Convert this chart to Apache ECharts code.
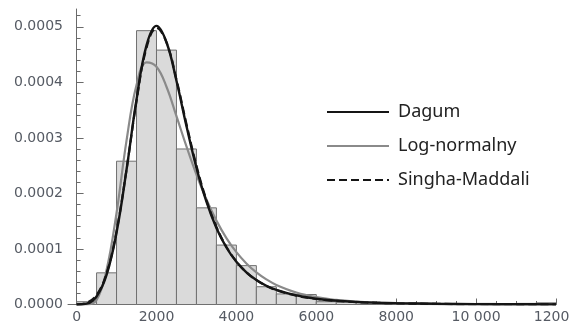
<!DOCTYPE html>
<html>
<head>
<meta charset="utf-8">
<script src="https://cdn.jsdelivr.net/npm/echarts@6/dist/echarts.min.js"></script>
<style>html,body{margin:0;padding:0;background:#fff}#c{width:569px;height:326px}</style>
</head>
<body>
<div id="c"></div>
<script>
// Histogram bins (left edges, width 500) and densities
const binLeft = [0,500,1000,1500,2000,2500,3000,3500,4000,4500,5000,5500,6000,6500,7000,7500,8000,8500,9000,9500,10000,10500,11000,11500];
const binWidth = 500;
const binDensity = [0.000005,0.000057,0.000258,0.000493,0.000458,0.00028,0.000174,0.000107,0.00007,0.000032,0.000019,0.000018,0.000005,0.000004,0.000003,0.000003,0.000002,0.000002,0.000002,0.000001,0.000002,0.000001,0.000002,0.000003];

// Curve sample positions and values
const curveX = [0,250,500,750,1000,1250,1500,1750,2000,2250,2500,2750,3000,3250,3500,3750,4000,4250,4500,4750,5000,5500,6000,6500,7000,7500,8000,9000,10000,11000,12000];
const dagum = [0,0.0000015,0.0000145,0.0000532,0.0001295,0.0002426,0.000369,0.0004665,0.0005016,0.0004722,0.0004027,0.0003214,0.0002463,0.000185,0.0001378,0.0001026,0.0000768,0.0000579,0.000044,0.0000338,0.0000262,0.0000163,0.0000104,0.0000069,0.0000047,0.0000033,0.0000024,0.0000013,0.0000007,0.0000004,0.0000003];
const logNormal = [0,0,0.000008,0.000062,0.000165,0.000295,0.000395,0.000436,0.000428,0.000392,0.000339,0.0002846,0.0002338,0.000189,0.000151,0.0001196,0.0000942,0.0000739,0.0000578,0.0000452,0.0000353,0.0000216,0.0000132,0.0000082,0.0000051,0.0000032,0.000002,0.0000008,0.0000004,0.0000002,0.0000001];
const singhMaddala = [0,0.000003,0.000017,0.000056,0.000132,0.000243,0.000366,0.000462,0.000498,0.000472,0.000405,0.000325,0.00025,0.000188,0.00014,0.000104,0.0000775,0.000058,0.0000438,0.0000334,0.0000257,0.0000157,0.0000099,0.0000064,0.0000043,0.000003,0.0000021,0.0000011,0.0000006,0.0000004,0.0000002];

const xLabelValues = [0,2000,4000,6000,8000,10000,12000];
const xLabelTexts = ['0','2000','4000','6000','8000','10 000','12000'];
const yLabelValues = [0,0.0001,0.0002,0.0003,0.0004,0.0005];

const xMinor = []; for (let v = 0; v <= 12000; v += 500) xMinor.push(v);
const yMinor = []; for (let i = 0; i <= 26; i++) yMinor.push(i * 0.00002);

const X_MIN = -215, X_MAX = 12000, Y_MAX = 0.000532;
const axisColor = '#6a6a6a';
const labelStyle = {fontFamily: 'DejaVu Sans', fontSize: 14, color: '#555a63'};

const histData = binLeft.map((x, i) => [x, x + binWidth, binDensity[i]]);
const pairs = arr => curveX.map((x, i) => [x, arr[i]]);

const chart = echarts.init(document.getElementById('c'), null, {renderer: 'canvas'});
chart.setOption({
  animation: false,
  backgroundColor: '#fff',
  grid: {left: 68, right: 13, top: 9, bottom: 21.5, containLabel: false, outerBoundsMode: 'none'},
  legend: {
    orient: 'vertical', left: 321, top: 98,
    itemWidth: 62, itemHeight: 14, itemGap: 16,
    itemStyle: {opacity: 0},
    textStyle: {fontFamily: 'Noto Sans', fontSize: 18, color: '#222', padding: [0,0,0,4]},
    data: ['Dagum', 'Log-normalny', 'Singha-Maddali']
  },
  xAxis: [
    {type: 'value', min: X_MIN, max: X_MAX, position: 'bottom',
     axisLine: {show: true, lineStyle: {color: axisColor, width: 1}},
     axisTick: {show: true, inside: true, length: 6, customValues: xLabelValues, lineStyle: {color: axisColor}},
     axisLabel: {show: true, customValues: xLabelValues, margin: 6, hideOverlap: false, ...labelStyle,
       formatter: v => { const i = xLabelValues.indexOf(v); return i >= 0 ? xLabelTexts[i] : ''; }},
     splitLine: {show: false}},
    {type: 'value', min: X_MIN, max: X_MAX, position: 'bottom',
     axisLine: {show: false},
     axisTick: {show: true, inside: true, length: 3.5, customValues: xMinor, lineStyle: {color: axisColor}},
     axisLabel: {show: false}, splitLine: {show: false}}
  ],
  yAxis: [
    {type: 'value', min: 0, max: Y_MAX, position: 'left',
     axisLine: {show: true, lineStyle: {color: axisColor, width: 1}},
     axisTick: {show: true, inside: true, length: 7, customValues: yLabelValues, lineStyle: {color: axisColor}},
     axisLabel: {show: true, customValues: yLabelValues, margin: 5, ...labelStyle,
       formatter: v => v.toFixed(4)},
     splitLine: {show: false}},
    {type: 'value', min: 0, max: Y_MAX, position: 'left',
     axisLine: {show: false},
     axisTick: {show: true, inside: true, length: 4, customValues: yMinor, lineStyle: {color: axisColor}},
     axisLabel: {show: false}, splitLine: {show: false}}
  ],
  series: [
    {type: 'custom', name: 'hist', xAxisIndex: 0, yAxisIndex: 0, data: histData,
     encode: {x: [0, 1], y: 2}, silent: true, z: 1,
     renderItem: (params, api) => {
       const p0 = api.coord([api.value(0), api.value(2)]);
       const p1 = api.coord([api.value(1), 0]);
       return {type: 'rect', shape: {x: p0[0], y: p0[1], width: p1[0] - p0[0], height: p1[1] - p0[1]},
               style: {fill: '#dadada', stroke: '#707070', lineWidth: 1}};
     }},
    {type: 'line', name: 'Log-normalny', data: pairs(logNormal), smooth: 0.4, showSymbol: false, symbol: 'none',
     lineStyle: {color: '#8a8a8a', width: 2.2}, itemStyle: {color: '#8a8a8a'}, z: 3},
    {type: 'line', name: 'Dagum', data: pairs(dagum), smooth: 0.4, showSymbol: false, symbol: 'none',
     lineStyle: {color: '#151515', width: 2.4}, itemStyle: {color: '#151515'}, z: 4},
    {type: 'line', name: 'Singha-Maddali', data: pairs(singhMaddala), smooth: 0.4, showSymbol: false, symbol: 'none',
     lineStyle: {color: '#151515', width: 2.2, type: [8, 4]}, itemStyle: {color: '#151515'}, z: 5}
  ]
});
</script>
</body>
</html>
